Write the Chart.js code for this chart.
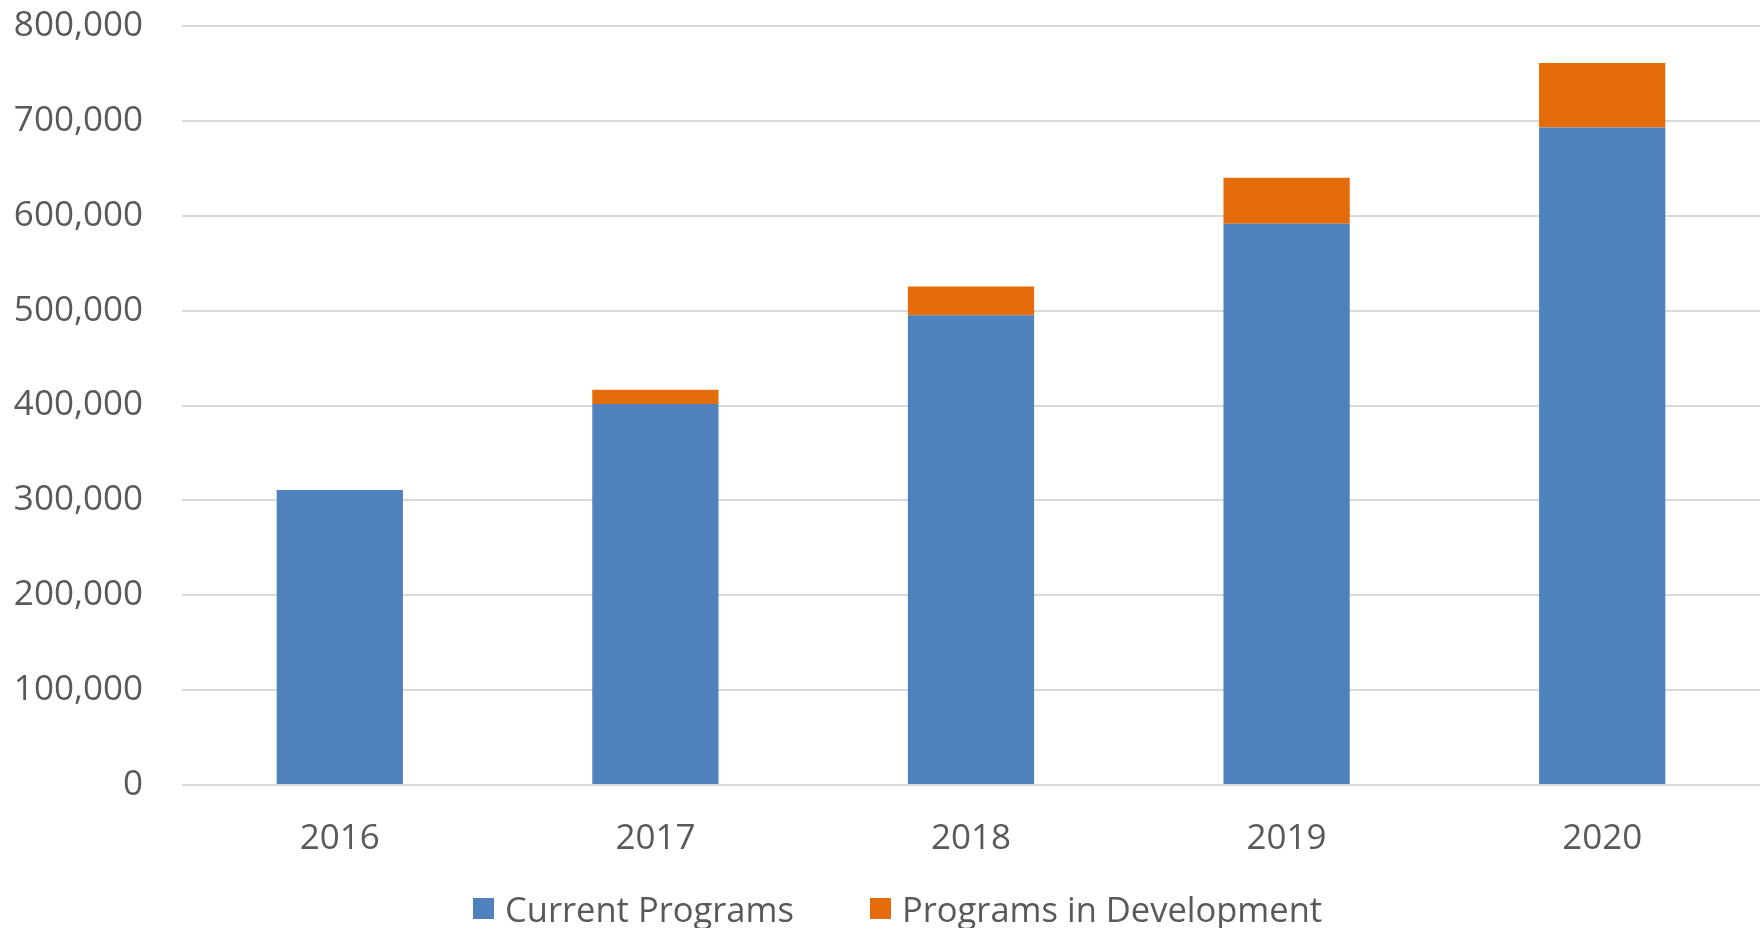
<!DOCTYPE html>
<html>
<head>
<meta charset="utf-8">
<script src="https://cdn.jsdelivr.net/npm/chart.js@4.4.1/dist/chart.umd.min.js"></script>
<style>
  body { margin: 0; background: #fff; }
  #wrap { position: relative; width: 1764px; height: 928px; }
  #legend { position: absolute; left: 0; top: 0; width: 1764px; height: 928px; pointer-events: none;
            font-family: "Open Sans", sans-serif; font-size: 34.5px; color: #595959; }
  .item { position: absolute; top: 886px; display: flex; align-items: center; height: 44px; white-space: nowrap; }
  .item .box { width: 21px; height: 21px; margin-right: 11px; }
</style>
</head>
<body>
<div id="wrap">
  <canvas id="chart" width="1764" height="928"></canvas>
  <div id="legend"></div>
</div>
<script>
const years = ['2016', '2017', '2018', '2019', '2020'];
const currentPrograms = [311000, 401500, 495000, 591500, 693000];
const programsInDev = [0, 15000, 30500, 48500, 68000];
const seriesNames = ['Current Programs', 'Programs in Development'];
const seriesColors = ['#4f81bd', '#e46c0a'];
const yTicks = [0, 100000, 200000, 300000, 400000, 500000, 600000, 700000, 800000];

const textColor = '#595959';
const font = { family: '"Open Sans", sans-serif', size: 35 };

const ctx = document.getElementById('chart').getContext('2d');
const chart = new Chart(ctx, {
  type: 'bar',
  data: {
    labels: years,
    datasets: [
      { label: seriesNames[0], data: currentPrograms, backgroundColor: seriesColors[0], borderWidth: 0 },
      { label: seriesNames[1], data: programsInDev, backgroundColor: seriesColors[1], borderWidth: 0 }
    ]
  },
  options: {
    responsive: false,
    animation: false,
    layout: { padding: { left: 13, right: 4, top: 0, bottom: 68 } },
    datasets: { bar: { categoryPercentage: 1, barPercentage: 0.4 } },
    plugins: { legend: { display: false }, tooltip: { enabled: false } },
    scales: {
      x: {
        stacked: true,
        grid: { display: false, drawTicks: false },
        border: { display: false },
        ticks: { color: textColor, font: font, padding: 33 },
        afterFit: axis => {
          axis.height = 75;
          axis.paddingLeft = 0;
          axis.paddingRight = 0;
        }
      },
      y: {
        stacked: true,
        min: yTicks[0],
        max: yTicks[yTicks.length - 1],
        afterBuildTicks: axis => { axis.ticks = yTicks.map(v => ({ value: v })); },
        grid: { color: '#d9d9d9', lineWidth: 2, drawTicks: false },
        border: { display: false },
        ticks: {
          color: textColor, font: font, padding: 39,
          callback: v => v.toLocaleString('en-US')
        },
        afterFit: axis => {
          axis.width = 169;
          axis.paddingTop = 26;
          axis.paddingBottom = 0;
        }
      }
    }
  }
});

// legend drawn as html, built from the series arrays
const legendEl = document.getElementById('legend');
const legendX = [473, 870];
seriesNames.forEach((name, i) => {
  const item = document.createElement('div');
  item.className = 'item';
  item.style.left = legendX[i] + 'px';
  item.innerHTML = `<span class="box" style="background:${seriesColors[i]}"></span><span>${name}</span>`;
  legendEl.appendChild(item);
});
</script>
</body>
</html>
